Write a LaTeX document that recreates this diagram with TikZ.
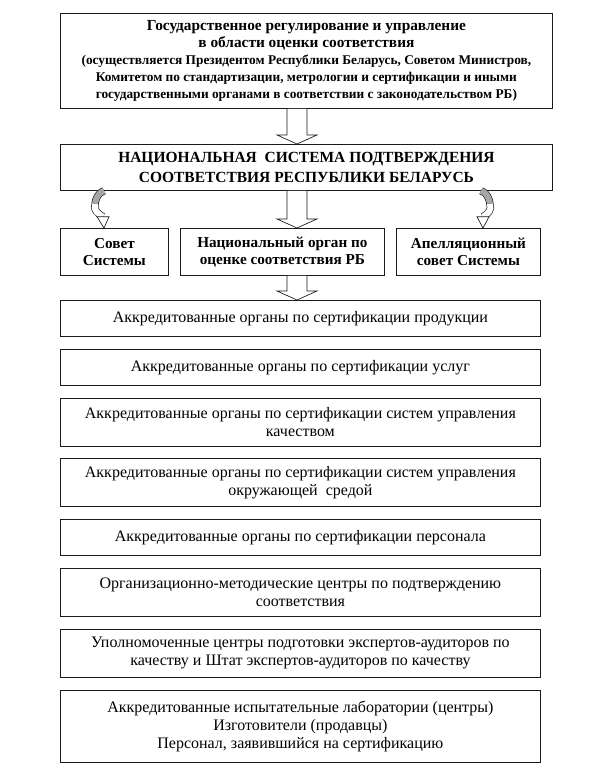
\documentclass[tikz,border=0pt]{standalone}
\usepackage{fontspec}
\setmainfont{Liberation Serif}
\usepackage{tikz}
\usetikzlibrary{calc,positioning}
\definecolor{Ink}{HTML}{1A1A1A}
\definecolor{CurlGray}{HTML}{A6A6A6}

\newcommand{\downblock}[2]{%
  \draw[blockarrow] ($(#1)+(-10,0)$) -- ($(#2)+(-10,-9)$) -- ($(#2)+(-20,-9)$) -- (#2)
    -- ($(#2)+(20,-9)$) -- ($(#2)+(10,-9)$) -- ($(#1)+(10,0)$);}
\newcommand{\smallbold}{\fontsize{10}{11.2}\selectfont}

\begin{document}
\begin{tikzpicture}[
  x=0.75pt,y=-0.75pt,
  box/.style={draw=Ink,line width=0.6pt,fill=white,inner sep=0pt,align=center,anchor=north west,text=black},
  head/.style={box,minimum width=369pt,font=\bfseries\fontsize{11.5}{12.6}\selectfont},
  member/.style={box,minimum height=35.25pt,font=\bfseries\fontsize{11.4}{13}\selectfont},
  unit/.style={box,minimum width=360pt,font=\fontsize{12}{13.5}\selectfont},
  blockarrow/.style={draw=Ink,line width=0.5pt,fill=white},
  curl/.style={draw=Ink,line width=0.5pt,double=#1,double distance=4.5pt},
  curl/.default=white
]
  \useasboundingbox (0,0) rectangle (600,780);
  \coordinate (spine) at (297,0);

  \node[head,minimum height=71.25pt] (gov) at (60,13) {Государственное регулирование и управление\\в области оценки соответствия\\
    \smallbold (осуществляется Президентом Республики Беларусь, Советом Министров,\\\smallbold Комитетом по стандартизации,  метрологии и сертификации и иными\\\smallbold государственными органами в соответствии с законодательством РБ)};
  \node[head,minimum height=34.5pt,font=\bfseries\fontsize{11.6}{15}\selectfont] (nss) at (60,144) {НАЦИОНАЛЬНАЯ\ \ СИСТЕМА ПОДТВЕРЖДЕНИЯ\\СООТВЕТСТВИЯ РЕСПУБЛИКИ БЕЛАРУСЬ};

  \node[member,minimum width=81pt] (council) at (60,228) {Совет\\Системы};
  \node[member,minimum width=153pt] (natbody) at (180,228) {Национальный орган по\\оценке соответствия РБ};
  \node[member,minimum width=108pt] (appeal) at (396,228) {Апелляционный\\совет Системы};

  \node[unit,minimum height=27pt] (products) at (60,300) {Аккредитованные органы по сертификации продукции};
  \node[unit,minimum height=27pt,below=9pt of products] (services) {Аккредитованные органы по сертификации услуг};
  \node[unit,minimum height=36pt,below=9pt of services] (quality) {Аккредитованные органы по сертификации систем управления\\качеством};
  \node[unit,minimum height=36pt,below=9pt of quality] (environ) {Аккредитованные органы по сертификации систем управления\\окружающей\ \ средой};
  \node[unit,minimum height=27pt,below=9pt of environ] (staff) {Аккредитованные органы по сертификации персонала};
  \node[unit,minimum height=36pt,below=9pt of staff] (method) {Организационно-методические центры по подтверждению\\соответствия};
  \node[unit,minimum height=36pt,below=9pt of method] (auditors) {Уполномоченные центры подготовки экспертов-аудиторов по\\качеству и Штат экспертов-аудиторов по качеству};
  \node[unit,minimum height=54pt,below=9pt of auditors] (labs) {Аккредитованные испытательные лаборатории (центры)\\Изготовители (продавцы)\\Персонал, заявившийся на сертификацию};

  % hollow block arrows down the middle
  \downblock{gov.south -| spine}{nss.north -| spine}
  \downblock{nss.south -| spine}{natbody.north -| spine}
  \downblock{natbody.south -| spine}{products.north -| spine}

  % curled arrows to the side councils
  \draw[curl=CurlGray] ($(nss.south west)+(44,0)$) .. controls +(-7,3) and +(1,-5) .. ++(-9,13) coordinate (l1);
  \draw[curl] (l1) .. controls +(-2,6) and +(-5,-3) .. ++(8,13) coordinate (l2);
  \draw[blockarrow] ($(l2)+(-6,0)$) -- ($(l2)+(6,0)$) -- ($(council.north west)+(44,0)$) -- cycle;

  \draw[curl=CurlGray] ($(nss.south west)+(421,0)$) .. controls +(7,3) and +(-1,-5) .. ++(9,13) coordinate (r1);
  \draw[curl] (r1) .. controls +(2,6) and +(5,-3) .. ++(-7,13) coordinate (r2);
  \draw[blockarrow] ($(r2)+(-6,0)$) -- ($(r2)+(6,0)$) -- ($(appeal.north west)+(87,0)$) -- cycle;
\end{tikzpicture}
\end{document}
